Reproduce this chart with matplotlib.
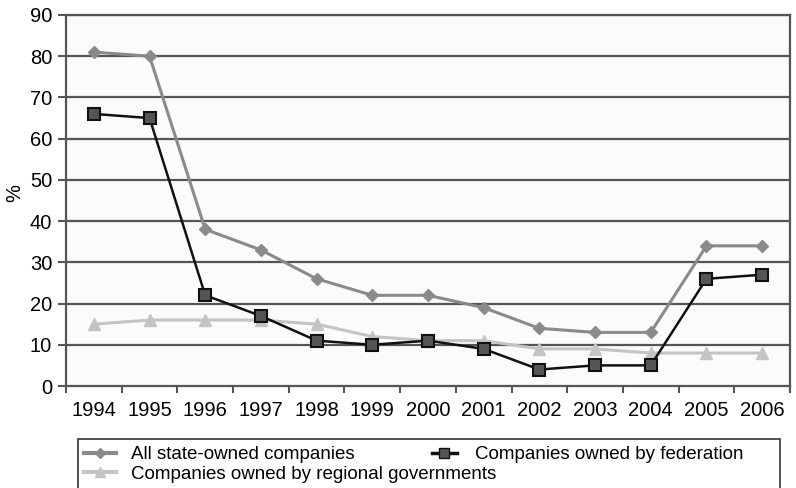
import numpy as np
import matplotlib.pyplot as plt
from matplotlib.lines import Line2D
from matplotlib.patches import Rectangle

plt.rcParams['font.family'] = ['Liberation Sans', 'DejaVu Sans']

# data
years = ['1994', '1995', '1996', '1997', '1998', '1999', '2000',
         '2001', '2002', '2003', '2004', '2005', '2006']
all_state = [81, 80, 38, 33, 26, 22, 22, 19, 14, 13, 13, 34, 34]
federation = [66, 65, 22, 17, 11, 10, 11, 9, 4, 5, 5, 26, 27]
regional = [15, 16, 16, 16, 15, 12, 11, 11, 9, 9, 8, 8, 8]

x = np.arange(len(years))

fig = plt.figure(figsize=(7.96, 4.88), dpi=100)
ax = fig.add_axes([66 / 796, 1 - 386 / 488, 724 / 796, 371 / 488])
ax.set_facecolor('#fbfbfb')

grid_col = '#555555'
for v in range(10, 91, 10):
    ax.axhline(v, color=grid_col, lw=1.6, zorder=1)

ax.plot(x, regional, color='#c4c4c4', lw=2.2, marker='^', ms=8,
        mfc='#c4c4c4', mec='#c4c4c4', zorder=3)
ax.plot(x, all_state, color='#8a8a8a', lw=2.2, marker='D', ms=6,
        mfc='#8a8a8a', mec='#8a8a8a', zorder=4)
ax.plot(x, federation, color='#111111', lw=1.8, marker='s', ms=8,
        mfc='#555555', mec='#111111', mew=1.5, zorder=5)

ax.set_xlim(-0.5, len(years) - 0.5)
ax.set_ylim(0, 90)
ax.set_yticks(range(0, 91, 10))
ax.set_xticks(x)
ax.set_xticklabels(years)
ax.set_xticks(np.arange(-0.5, len(years), 1), minor=True)
ax.tick_params(axis='x', which='major', length=0, labelsize=14.5, pad=11)
ax.tick_params(axis='x', which='minor', length=5, width=1.5, color=grid_col, direction='out')
ax.tick_params(axis='y', length=6, width=1.5, color=grid_col, labelsize=14.5, pad=4)

for s in ['left', 'right', 'top', 'bottom']:
    ax.spines[s].set_color(grid_col)
    ax.spines[s].set_linewidth(1.6)

ax.set_ylabel('%', fontsize=14.5)
ax.yaxis.set_label_coords(-42 / 724, 0.52)

# legend box, laid out like the original
fig.patches.append(Rectangle((78 / 796, -0.05), 702 / 796, 1 - 439 / 488 + 0.05,
                             transform=fig.transFigure, fill=False,
                             edgecolor='#333333', lw=1.2))

h_all = Line2D([], [], color='#8a8a8a', lw=3, marker='D', ms=5, mfc='#8a8a8a', mec='#8a8a8a')
h_reg = Line2D([], [], color='#c4c4c4', lw=3, marker='^', ms=7, mfc='#c4c4c4', mec='#c4c4c4')
h_fed = Line2D([], [], color='#111111', lw=2.5, marker='s', ms=7, mfc='#555555', mec='#111111')

fig.legend([h_all, h_reg], ['All state-owned companies',
                            'Companies owned by regional governments'],
           loc='upper left', bbox_to_anchor=(71 / 796, 1 - 433 / 488),
           frameon=False, fontsize=13.5, handlelength=1.7, handletextpad=0.8,
           labelspacing=0.12, borderpad=0.2)
fig.legend([h_fed], ['Companies owned by federation'],
           loc='upper left', bbox_to_anchor=(419 / 796, 1 - 433 / 488),
           frameon=False, fontsize=13.5, handlelength=1.3, handletextpad=1.0,
           borderpad=0.2)

fig.savefig('out.png', dpi=100)
